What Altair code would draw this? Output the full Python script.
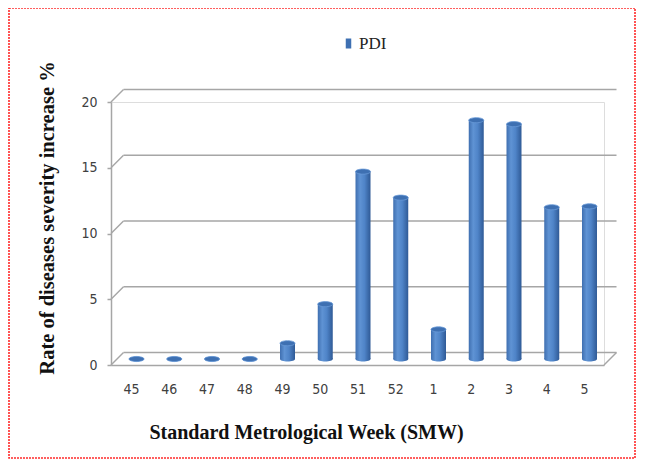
import altair as alt
import pandas as pd

weeks = ["45", "46", "47", "48", "49", "50", "51", "52", "1", "2", "3", "4", "5"]
pdi = [0.0, 0.0, 0.0, 0.0, 1.2, 4.17, 14.25, 12.27, 2.25, 18.16, 17.86, 11.54, 11.61]
series = ["PDI"] * len(weeks)
y_ticks = [0, 5, 10, 15, 20]

bars = pd.DataFrame({"week": weeks, "value": pdi, "series": series})
grid = pd.DataFrame({"tick": y_ticks})
floor = pd.DataFrame({"tick": [0]})

W, H = 493, 263
DX, DY = 12.5, 12.5  # 3-D depth offsets of back wall

tick_font = "Liberation Sans Narrow, DejaVu Sans Condensed, sans-serif"
serif = "Liberation Serif, Times New Roman, serif"

xscale = alt.Scale(domain=weeks, type="point", padding=0.53)
yscale = alt.Scale(domain=[0, 20], nice=False)

x_enc = alt.X(
    "week:N", scale=xscale, sort=weeks,
    axis=alt.Axis(
        title="Standard Metrological Week (SMW)",
        titleFont=serif, titleFontSize=20, titleFontWeight="bold", titleColor="#111",
        titleX=195, titleY=67, titleAnchor="middle", titleAlign="center", titleBaseline="middle",
        labelFont=tick_font, labelFontSize=14, labelColor="#404040", labelAngle=0,
        labelPadding=17, ticks=False, domainColor="#a6a6a6", domainWidth=1.5, grid=False,
    ),
)
y_enc = alt.Y(
    "value:Q", scale=yscale,
    axis=alt.Axis(
        values=y_ticks, grid=False,
        title="Rate of diseases severity increase %",
        titleFont=serif, titleFontSize=20.5, titleFontWeight="bold", titleColor="#111",
        titleAngle=270, titleX=-64, titleY=115.5, titleAlign="center", titleBaseline="middle",
        labelFont=tick_font, labelFontSize=14, labelColor="#404040",
        labelPadding=10, tickSize=4, tickColor="#a6a6a6", tickWidth=1.5,
        domainColor="#a6a6a6", domainWidth=1.5,
    ),
)

grad = alt.Gradient(
    gradient="linear", x1=0, x2=1, y1=0, y2=0,
    stops=[
        alt.GradientStop(color="#3f6fb0", offset=0),
        alt.GradientStop(color="#5f93d4", offset=0.3),
        alt.GradientStop(color="#4f84c8", offset=0.6),
        alt.GradientStop(color="#2f5a96", offset=1),
    ],
)
ellipse = "M-1,0A1,0.34 0 1,0 1,0A1,0.34 0 1,0 -1,0Z"
BW = 15

back_grid = alt.Chart(grid).mark_rule(
    color="#a6a6a6", strokeWidth=1.5, yOffset=-DY
).encode(
    y=alt.Y("tick:Q", scale=yscale),
    x=alt.value(DX), x2=alt.value(W + DX),
)
diag = alt.Chart(grid).mark_rule(
    color="#a6a6a6", strokeWidth=1.5, y2Offset=-DY
).encode(
    y=alt.Y("tick:Q", scale=yscale), y2="tick:Q",
    x=alt.value(0), x2=alt.value(DX),
)
floor_side = alt.Chart(floor).mark_rule(
    color="#a6a6a6", strokeWidth=1.5, y2Offset=-DY
).encode(
    y=alt.Y("tick:Q", scale=yscale), y2="tick:Q",
    x=alt.value(W), x2=alt.value(W + DX),
)

base = alt.Chart(bars).encode(x=x_enc)

bottom = base.mark_point(
    shape=ellipse, size=BW * BW, filled=True, fill=grad, opacity=1,
    strokeWidth=0, xOffset=5.5, yOffset=-6,
).encode(y=alt.datum(0))

body = base.mark_bar(
    size=BW, color=grad, xOffset=5.5, yOffset=-6,
).encode(y=y_enc)

top = base.mark_point(
    shape=ellipse, size=BW * BW, filled=True, opacity=1,
    stroke="#6a9bd8", strokeWidth=0.8, xOffset=5.5, yOffset=-6,
).encode(
    y=alt.Y("value:Q", scale=yscale),
    color=alt.Color(
        "series:N",
        scale=alt.Scale(domain=["PDI"], range=["#3e70b2"]),
        legend=alt.Legend(
            orient="none", legendX=229, legendY=-67, title=None,
            symbolType="M-0.55,-1H0.55V1H-0.55Z", symbolSize=100,
            symbolStrokeWidth=0, symbolFillColor="#4a7ebf",
            labelFont=serif, labelFontSize=17, labelColor="#222",
            labelOffset=2,
        ),
    ),
)

border = alt.Chart(floor).mark_rect(
    fillOpacity=0, stroke="#ff2a2a", strokeWidth=1.6, strokeDash=[2, 1],
).encode(
    x=alt.value(-102), x2=alt.value(524), y=alt.value(-94), y2=alt.value(356),
)

chart = alt.layer(
    border, back_grid, diag, floor_side, bottom, body, top
).properties(
    width=W, height=H,
    autosize=alt.AutoSizeParams(type="none"),
    padding={"left": 103, "top": 94, "right": 33, "bottom": 95},
).configure_view(stroke=None).configure(background="white")

chart.save("out.html", embed_options={"renderer": "svg", "actions": False})
